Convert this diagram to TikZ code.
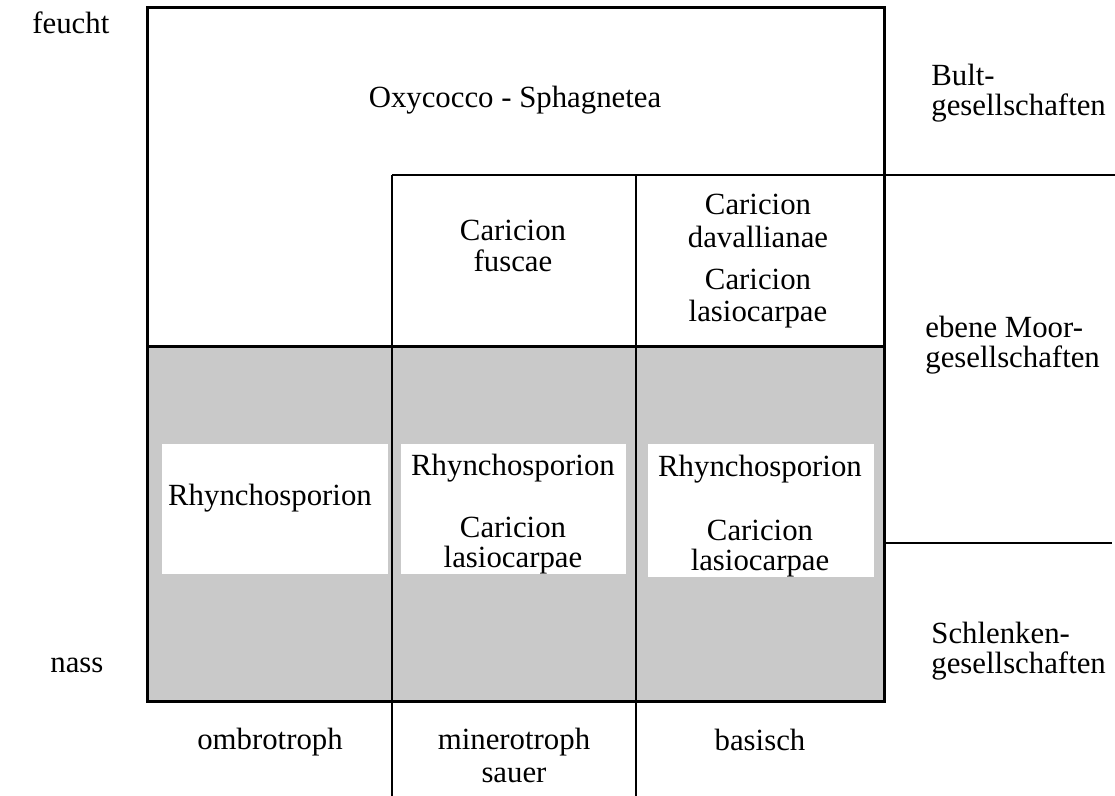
\documentclass[tikz,border=0pt]{standalone}
\usepackage{fontspec}
\setmainfont{Liberation Serif}
\begin{document}
\begin{tikzpicture}[x=0.5pt,y=-0.5pt,
  lbl/.style={font=\fontsize{15.4}{17}\selectfont, inner sep=0pt, anchor=base},
  lblw/.style={lbl, anchor=base west},
  thickline/.style={line width=1.5pt, line cap=rect},
  thinline/.style={line width=0.75pt},
  shade/.style={fill=black!21, draw=none},
  whitebox/.style={fill=white, draw=none}]
\useasboundingbox (0,0) rectangle (1115,796);
% shaded region and white label boxes
\fill[shade] (147,347) rectangle (884,702);
\fill[whitebox] (162,444) rectangle (388,574);
\fill[whitebox] (401,444) rectangle (626,574);
\fill[whitebox] (648,444) rectangle (874,577);
% grid lines
\draw[thinline] (392,175) -- (884,175);
\draw[thinline] (392,175) -- (392,796);
\draw[thinline] (636,175) -- (636,796);
\draw[thinline] (884,175) -- (1115,175);
\draw[thinline] (884,543) -- (1112,543);
\draw[thickline] (147,347) -- (884,347);
\draw[thickline] (147,8) rectangle (884,702);
% left labels
\node[lblw] (feucht) at (32,34) {feucht};
\node[lblw] (nass) at (50,673) {nass};
% cells
\node[lbl] (oxy) at (515,108) {Oxycocco - Sphagnetea};
\node[lbl] (cf1) at (513,241) {Caricion};
\node[lbl] (cf2) at (513,272) {fuscae};
\node[lbl] (cd1) at (758,215) {Caricion};
\node[lbl] (cd2) at (758,248) {davallianae};
\node[lbl] (cl1) at (758,290) {Caricion};
\node[lbl] (cl2) at (758,322) {lasiocarpae};
\node[lbl] (r1) at (270,506) {Rhynchosporion};
\node[lbl] (r2) at (513,476) {Rhynchosporion};
\node[lbl] (r2c1) at (513,538) {Caricion};
\node[lbl] (r2c2) at (513,568) {lasiocarpae};
\node[lbl] (r3) at (760,477) {Rhynchosporion};
\node[lbl] (r3c1) at (760,541) {Caricion};
\node[lbl] (r3c2) at (760,571) {lasiocarpae};
% right labels
\node[lblw] (b1) at (931,86) {Bult-};
\node[lblw] (b2) at (931,116) {gesellschaften};
\node[lblw] (e1) at (925,338) {ebene Moor-};
\node[lblw] (e2) at (925,368) {gesellschaften};
\node[lblw] (s1) at (931,644) {Schlenken-};
\node[lblw] (s2) at (931,674) {gesellschaften};
% bottom labels
\node[lbl] (omb) at (270,749) {ombrotroph};
\node[lbl] (min1) at (514,749) {minerotroph};
\node[lbl] (min2) at (514,783) {sauer};
\node[lbl] (bas) at (760,751) {basisch};
\end{tikzpicture}
\end{document}
